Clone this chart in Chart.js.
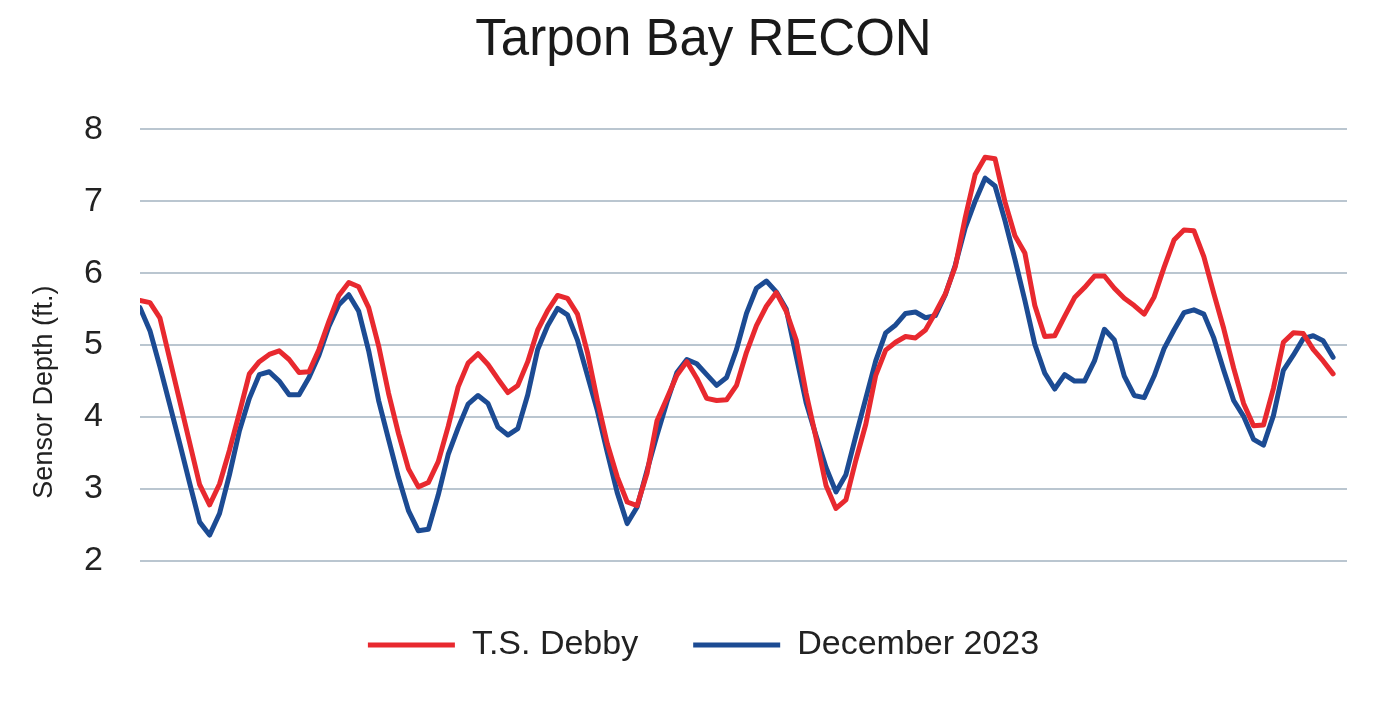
<!DOCTYPE html>
<html lang="en">
<head>
    <meta charset="UTF-8">
    <title>Tarpon Bay RECON</title>
    <script src="https://cdn.jsdelivr.net/npm/chart.js"></script>
    <style>
        body {
            margin: 0;
            background-color: #fff;
        }
        #wrap {
            width: 1392px;
            height: 705px;
        }
    </style>
</head>
<body>
    <div id="wrap">
        <canvas id="myChart" width="1392" height="705"></canvas>
    </div>

    <script>
        // hourly samples, x is just the sample index
        const hours = [];
        for (let i = 0; i <= 120; i++) hours.push(i);

        const debby = [
            5.62, 5.59, 5.38, 4.80, 4.22, 3.64, 3.06, 2.78, 3.07, 3.54,
            4.06, 4.60, 4.77, 4.87, 4.92, 4.80, 4.62, 4.63, 4.94, 5.33,
            5.69, 5.87, 5.81, 5.52, 4.99, 4.33, 3.77, 3.28, 3.03, 3.09,
            3.38, 3.87, 4.42, 4.75, 4.88, 4.73, 4.53, 4.34, 4.44, 4.77,
            5.21, 5.48, 5.69, 5.65, 5.43, 4.90, 4.23, 3.63, 3.17, 2.82,
            2.77, 3.22, 3.95, 4.26, 4.58, 4.77, 4.54, 4.26, 4.23, 4.24,
            4.44, 4.90, 5.27, 5.54, 5.73, 5.47, 5.07, 4.33, 3.71, 3.05,
            2.73, 2.85, 3.40, 3.90, 4.58, 4.93, 5.04, 5.12, 5.10, 5.21,
            5.45, 5.71, 6.09, 6.77, 7.37, 7.61, 7.59, 6.99, 6.52, 6.28,
            5.55, 5.12, 5.13, 5.40, 5.66, 5.80, 5.96, 5.96, 5.79, 5.65,
            5.55, 5.43, 5.67, 6.08, 6.46, 6.60, 6.59, 6.23, 5.72, 5.23,
            4.68, 4.19, 3.88, 3.89, 4.40, 5.04, 5.17, 5.16, 4.94, 4.78,
            4.60
        ];

        const dec2023 = [
            5.52, 5.20, 4.70, 4.17, 3.63, 3.08, 2.54, 2.36, 2.66, 3.20,
            3.81, 4.26, 4.59, 4.63, 4.50, 4.31, 4.31, 4.55, 4.86, 5.26,
            5.56, 5.70, 5.47, 4.92, 4.23, 3.69, 3.16, 2.70, 2.42, 2.44,
            2.92, 3.48, 3.85, 4.18, 4.30, 4.19, 3.86, 3.75, 3.84, 4.31,
            4.94, 5.27, 5.51, 5.42, 5.07, 4.58, 4.09, 3.51, 2.95, 2.52,
            2.75, 3.26, 3.75, 4.21, 4.62, 4.80, 4.74, 4.59, 4.44, 4.55,
            4.94, 5.44, 5.79, 5.89, 5.74, 5.50, 4.85, 4.20, 3.74, 3.30,
            2.96, 3.20, 3.74, 4.26, 4.78, 5.17, 5.28, 5.44, 5.46, 5.38,
            5.41, 5.70, 6.11, 6.63, 7.00, 7.32, 7.21, 6.73, 6.19, 5.62,
            5.01, 4.61, 4.39, 4.59, 4.50, 4.50, 4.78, 5.22, 5.07, 4.57,
            4.30, 4.27, 4.57, 4.95, 5.21, 5.45, 5.49, 5.43, 5.10, 4.65,
            4.23, 4.01, 3.69, 3.61, 4.02, 4.65, 4.86, 5.09, 5.13, 5.06,
            4.83
        ];

        const yTicks = [2, 3, 4, 5, 6, 7, 8];

        function toPoints(values) {
            return values.map((v, i) => ({ x: hours[i], y: v }));
        }

        // y axis title sits a bit below the middle of the plot in the original
        const yTitlePlugin = {
            id: 'yTitle',
            afterDraw(chart) {
                const c = chart.ctx;
                const area = chart.chartArea;
                c.save();
                c.translate(45, (area.top + area.bottom) / 2 + 47);
                c.rotate(-Math.PI / 2);
                c.font = '27px "Liberation Sans"';
                c.fillStyle = '#222';
                c.textAlign = 'center';
                c.textBaseline = 'middle';
                c.fillText('Sensor Depth (ft.)', 0, 0);
                c.restore();
            }
        };

        const ctx = document.getElementById('myChart').getContext('2d');
        new Chart(ctx, {
            type: 'line',
            data: {
                datasets: [{
                    label: 'T.S. Debby',
                    data: toPoints(debby),
                    borderColor: '#e8292f',
                    backgroundColor: '#e8292f',
                    borderWidth: 5,
                    borderCapStyle: 'round',
                    borderJoinStyle: 'round',
                    pointRadius: 0,
                    tension: 0
                }, {
                    label: 'December 2023',
                    data: toPoints(dec2023),
                    borderColor: '#1c4b93',
                    backgroundColor: '#1c4b93',
                    borderWidth: 5,
                    borderCapStyle: 'round',
                    borderJoinStyle: 'round',
                    pointRadius: 0,
                    tension: 0
                }]
            },
            options: {
                responsive: false,
                animation: false,
                layout: {
                    padding: { top: 0, right: 45, bottom: 33, left: 60 }
                },
                scales: {
                    x: {
                        type: 'linear',
                        min: 0,
                        max: 121.4,
                        border: { display: false },
                        grid: { display: false },
                        ticks: { display: false },
                        afterFit: s => { s.height = 12; }
                    },
                    y: {
                        min: 2,
                        max: 8,
                        afterBuildTicks: axis => {
                            axis.ticks = yTicks.map(v => ({ value: v }));
                        },
                        afterFit: s => { s.width = 80; },
                        border: { display: false },
                        grid: {
                            color: '#bac6d0',
                            lineWidth: 2,
                            drawTicks: false
                        },
                        ticks: {
                            color: '#222',
                            padding: 37,
                            font: { family: 'Liberation Sans', size: 34 }
                        }
                    }
                },
                plugins: {
                    title: {
                        display: true,
                        text: 'Tarpon Bay RECON',
                        color: '#1a1a1a',
                        padding: { top: 10, bottom: 58 },
                        font: { family: 'Liberation Sans', size: 51, weight: 'normal' }
                    },
                    legend: {
                        position: 'bottom',
                        labels: {
                            color: '#222',
                            usePointStyle: true,
                            pointStyle: 'line',
                            pointStyleWidth: 87,
                            padding: 55,
                            font: { family: 'Liberation Sans', size: 34 }
                        }
                    },
                    tooltip: { enabled: false }
                }
            },
            plugins: [yTitlePlugin]
        });
    </script>
</body>
</html>
